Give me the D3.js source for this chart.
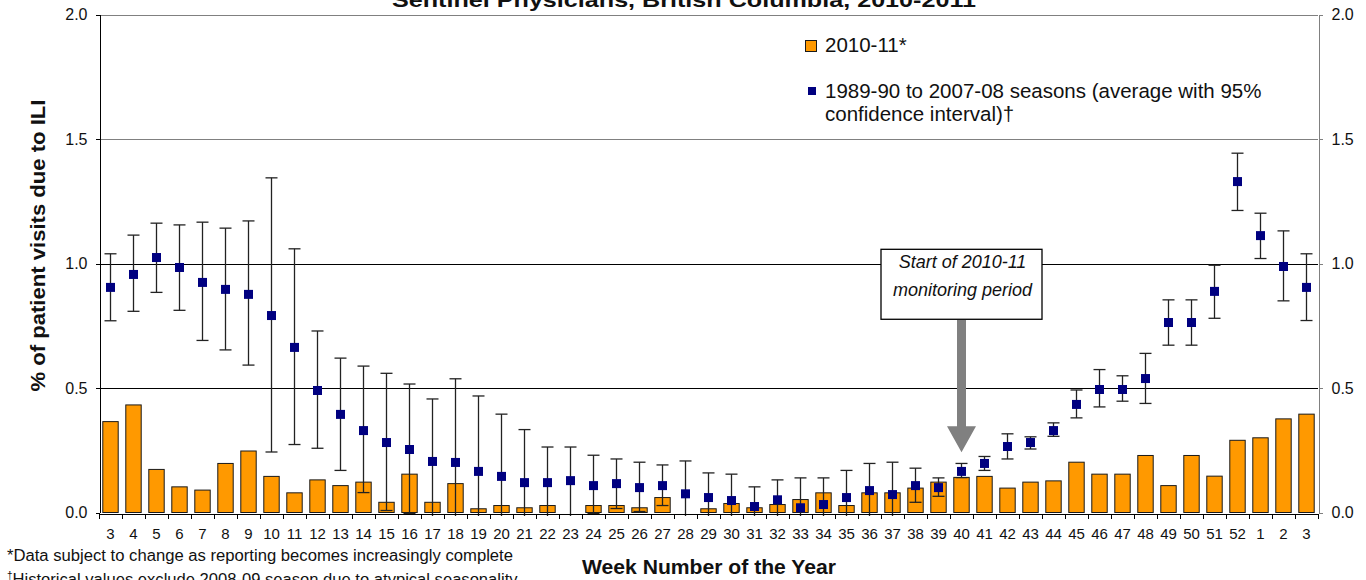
<!DOCTYPE html>
<html lang="en">
<head>
<meta charset="UTF-8">
<title>ILI - Sentinel Physicians, British Columbia, 2010-2011</title>
<style>
  body { margin: 0; background: #fff; }
  svg text { font-family: "Liberation Sans", Arial, sans-serif; fill: #111; }
  .axis path, .axis line { shape-rendering: crispEdges; }
</style>
<script src="https://d3js.org/d3.v7.min.js"></script>
</head>
<body>
<svg id="chart" width="1366" height="580"></svg>
<script>
// week labels along the x axis (week 3 of 2010 through week 3 of 2011)
const weeks = [3,4,5,6,7,8,9,10,11,12,13,14,15,16,17,18,19,20,21,22,23,24,25,26,27,
  28,29,30,31,32,33,34,35,36,37,38,39,40,41,42,43,44,45,46,47,48,49,50,51,52,1,2,3];

// 2010-11 season, % of visits due to ILI (bars)
const season2010 = [0.365,0.432,0.173,0.103,0.090,0.197,0.247,0.145,0.079,0.131,0.108,0.122,
  0.041,0.154,0.041,0.116,0.015,0.028,0.019,0.028,0,0.028,0.028,0.019,0.060,0,0.015,0.036,
  0.019,0.032,0.052,0.079,0.028,0.079,0.079,0.098,0.122,0.141,0.145,0.098,0.122,0.127,0.202,
  0.154,0.154,0.229,0.108,0.229,0.146,0.290,0.300,0.376,0.395];

// 1989-90 to 2007-08 average and 95% CI
const histAvg = [0.904,0.956,1.024,0.984,0.924,0.896,0.876,0.791,0.663,0.490,0.394,0.329,
  0.281,0.253,0.205,0.201,0.165,0.145,0.120,0.120,0.128,0.108,0.116,0.100,0.108,0.075,0.060,
  0.048,0.024,0.051,0.019,0.032,0.060,0.088,0.072,0.108,0.100,0.165,0.197,0.265,0.281,0.329,
  0.434,0.494,0.494,0.538,0.763,0.763,0.888,1.329,1.112,0.988,0.904];
const histUpper = [1.039,1.114,1.162,1.155,1.166,1.142,1.171,1.344,1.059,0.729,0.620,0.588,
  0.559,0.516,0.456,0.537,0.468,0.395,0.333,0.263,0.263,0.230,0.215,0.202,0.191,0.207,0.159,
  0.154,0.103,0.131,0.139,0.139,0.169,0.197,0.202,0.178,0.139,0.197,0.225,0.316,0.304,0.360,
  0.492,0.574,0.549,0.639,0.854,0.854,0.993,1.443,1.202,1.131,1.039];
const histLower = [0.770,0.808,0.884,0.812,0.691,0.653,0.592,0.243,0.273,0.258,0.169,0.080,
  0.008,-0.004,-0.03,-0.03,-0.03,-0.03,-0.03,-0.03,-0.03,-0.004,0.016,0.004,0.028,-0.03,-0.03,
  -0.03,-0.03,-0.03,-0.03,-0.03,-0.03,-0.03,-0.03,0.041,0.065,0.140,0.169,0.215,0.255,0.306,
  0.380,0.424,0.447,0.438,0.672,0.672,0.780,1.213,1.020,0.850,0.771];

const yTicks = [0, 0.5, 1.0, 1.5, 2.0];

const svg = d3.select("#chart");
const plotL = 99, plotR = 1318, plotT = 14.5, plotB = 512.5;

const x = d3.scaleBand()
  .domain(d3.range(weeks.length))
  .range([plotL, plotR])
  .paddingInner(0.33)
  .paddingOuter(0.165);

const y = d3.scaleLinear().domain([0, 2]).range([plotB, plotT]);

// title (mostly cut off at the top, as in the source image)
svg.append("text")
  .attr("x", 684).attr("y", 7)
  .attr("text-anchor", "middle")
  .attr("textLength", 584).attr("lengthAdjust", "spacingAndGlyphs")
  .style("font-size", "20px").style("font-weight", "bold")
  .text("Sentinel Physicians, British Columbia, 2010-2011");

// gridlines
svg.append("g").selectAll("line")
  .data(yTicks.filter(d => d > 0))
  .join("line")
  .attr("x1", plotL).attr("x2", plotR)
  .attr("y1", d => Math.round(y(d)) + 0.5).attr("y2", d => Math.round(y(d)) + 0.5)
  .attr("stroke", d => d >= 1.5 ? "#808080" : "#000")
  .attr("stroke-width", 1);

// bars
svg.append("g").selectAll("rect")
  .data(season2010)
  .join("rect")
  .attr("x", (d, i) => x(i))
  .attr("y", d => y(d))
  .attr("width", x.bandwidth())
  .attr("height", d => y(0) - y(d))
  .attr("fill", "#FF9900")
  .attr("stroke", d => d > 0 ? "#1a1a1a" : "none")
  .attr("stroke-width", 1);

// error bars, clipped just below the axis like the spreadsheet does
svg.append("clipPath").attr("id", "errclip")
  .append("rect").attr("x", plotL).attr("y", 0)
  .attr("width", plotR - plotL).attr("height", y(0) + 3.5);

const cx = i => x(i) + x.bandwidth() / 2;
const capW = 6;
const err = svg.append("g").attr("clip-path", "url(#errclip)")
  .attr("stroke", "#222").attr("stroke-width", 1.3);
weeks.forEach((w, i) => {
  err.append("line").attr("x1", cx(i)).attr("x2", cx(i))
    .attr("y1", y(histUpper[i])).attr("y2", y(histLower[i]));
  err.append("line").attr("x1", cx(i) - capW).attr("x2", cx(i) + capW)
    .attr("y1", y(histUpper[i])).attr("y2", y(histUpper[i]));
  err.append("line").attr("x1", cx(i) - capW).attr("x2", cx(i) + capW)
    .attr("y1", y(histLower[i])).attr("y2", y(histLower[i]));
});

// average markers
const mk = 9;
svg.append("g").selectAll("rect")
  .data(histAvg)
  .join("rect")
  .attr("x", (d, i) => cx(i) - mk / 2)
  .attr("y", d => y(d) - mk / 2)
  .attr("width", mk).attr("height", mk)
  .attr("fill", "#000080");

// x axis: labels at centres, tick marks at category boundaries
const xAxis = svg.append("g").attr("class", "axis")
  .attr("transform", `translate(0,${Math.round(y(0)) + 0.5})`)
  .call(d3.axisBottom(x).tickSize(0).tickSizeOuter(0).tickPadding(15)
    .tickFormat(i => weeks[i]));
xAxis.select(".domain").attr("stroke", "#000");
xAxis.selectAll("text").style("font-size", "15px").attr("fill", "#111");
const gap = (x.step() - x.bandwidth()) / 2;
xAxis.append("g").selectAll("line")
  .data(d3.range(weeks.length + 1))
  .join("line")
  .attr("x1", i => Math.round(i < weeks.length ? x(i) - gap : plotR) + 0.5)
  .attr("x2", i => Math.round(i < weeks.length ? x(i) - gap : plotR) + 0.5)
  .attr("y1", 0).attr("y2", 5)
  .attr("stroke", "#000");

// y axes
const yLeft = svg.append("g").attr("class", "axis")
  .attr("transform", `translate(${plotL + 0.5},0)`)
  .call(d3.axisLeft(y).tickValues(yTicks).tickFormat(d3.format(".1f"))
    .tickSize(4).tickSizeOuter(0).tickPadding(8));
yLeft.select(".domain").attr("stroke", "#000");
yLeft.selectAll("line").attr("stroke", "#000");
yLeft.selectAll("text").style("font-size", "16px").attr("fill", "#222");

const yRight = svg.append("g").attr("class", "axis")
  .attr("transform", `translate(${plotR + 0.5},0)`)
  .call(d3.axisRight(y).tickValues(yTicks).tickFormat(d3.format(".1f"))
    .tickSize(4).tickSizeOuter(0).tickPadding(9));
yRight.select(".domain").attr("stroke", "#808080");
yRight.selectAll("line").attr("stroke", "#808080");
yRight.selectAll("text").style("font-size", "16px").attr("fill", "#222");

// axis titles
svg.append("text")
  .attr("transform", `translate(45,${(plotT + plotB) / 2 - 18}) rotate(-90)`)
  .attr("text-anchor", "middle")
  .attr("textLength", 292).attr("lengthAdjust", "spacingAndGlyphs")
  .style("font-size", "20px").style("font-weight", "bold")
  .text("% of patient visits due to ILI");

svg.append("text")
  .attr("x", 709).attr("y", 574)
  .attr("text-anchor", "middle")
  .attr("textLength", 254).attr("lengthAdjust", "spacingAndGlyphs")
  .style("font-size", "20px").style("font-weight", "bold")
  .text("Week Number of the Year");

// legend
const lg = svg.append("g");
lg.append("rect").attr("x", 805.5).attr("y", 40.5).attr("width", 11).attr("height", 11)
  .attr("fill", "#FF9900").attr("stroke", "#1a1a1a");
lg.append("text").attr("x", 825).attr("y", 52).style("font-size", "20.5px").text("2010-11*");
lg.append("rect").attr("x", 808).attr("y", 87).attr("width", 8).attr("height", 8)
  .attr("fill", "#000080");
lg.append("text").attr("x", 825).attr("y", 98).style("font-size", "20.5px")
  .text("1989-90 to 2007-08 seasons (average with 95%");
lg.append("text").attr("x", 825).attr("y", 121).style("font-size", "20.5px")
  .text("confidence interval)\u2020");

// annotation for the start of the monitoring period (week 40)
const startIdx = 37;
const ax = cx(startIdx);
const boxTop = y(1.057), boxBot = y(0.776), headTop = y(0.346), tip = y(0.242);
svg.append("rect")
  .attr("x", ax - 80.5).attr("y", boxTop).attr("width", 161).attr("height", boxBot - boxTop)
  .attr("fill", "#fff").attr("stroke", "#000").attr("stroke-width", 1.3);
svg.append("text").attr("x", ax + 1).attr("y", boxTop + 19).attr("text-anchor", "middle")
  .style("font-size", "18px").style("font-style", "italic")
  .text("Start of 2010-11");
svg.append("text").attr("x", ax + 1).attr("y", boxTop + 47).attr("text-anchor", "middle")
  .style("font-size", "18px").style("font-style", "italic")
  .text("monitoring period");
svg.append("path")
  .attr("d", `M${ax - 4.5},${boxBot + 0.7} L${ax + 4.5},${boxBot + 0.7} L${ax + 4.5},${headTop}
    L${ax + 14.5},${headTop} L${ax},${tip} L${ax - 14.5},${headTop} L${ax - 4.5},${headTop} Z`)
  .attr("fill", "#808080");

// footnotes
svg.append("text").attr("x", 7).attr("y", 561).style("font-size", "16px")
  .attr("textLength", 506).attr("lengthAdjust", "spacingAndGlyphs")
  .text("*Data subject to change as reporting becomes increasingly complete");
const fn2 = svg.append("text").attr("x", 7).attr("y", 585).style("font-size", "16px");
fn2.append("tspan").attr("dy", -6).style("font-size", "10px").text("\u2020");
fn2.append("tspan").attr("dy", 6)
  .attr("textLength", 505).attr("lengthAdjust", "spacingAndGlyphs")
  .text("Historical values exclude 2008-09 season due to atypical seasonality");
</script>
</body>
</html>
